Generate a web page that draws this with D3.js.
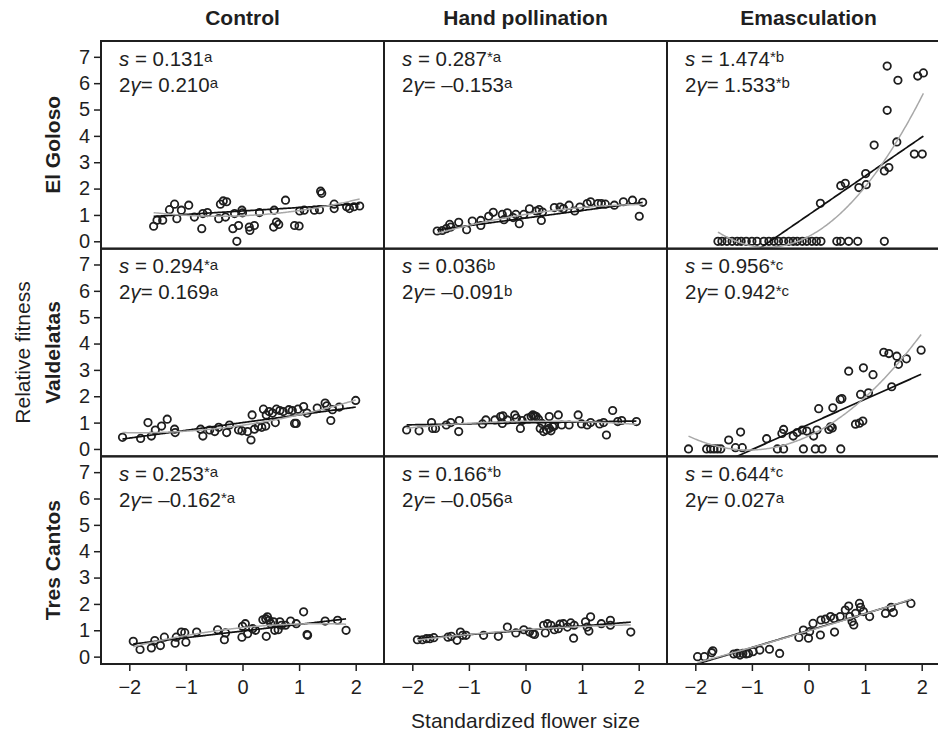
<!DOCTYPE html>
<html>
<head>
<meta charset="utf-8">
<script src="https://cdn.jsdelivr.net/npm/d3@7"></script>
<style>
body { margin: 0; background: #fff; }
text { font-family: "Liberation Sans", Arial, Helvetica, sans-serif; fill: #1f1f1f; }
</style>
</head>
<body>
<svg id="chart"></svg>
<script>
const WIDTH = 938;
const HEIGHT = 734;

const treatments = ["Control", "Hand pollination", "Emasculation"];
const populations = ["El Goloso", "Valdelatas", "Tres Cantos"];
const xTicks = [-2, -1, 0, 1, 2];
const yTicks = [0, 1, 2, 3, 4, 5, 6, 7];

// rows = populations, cols = treatments
const sValues = [[0.131, 0.287, 1.474], [0.294, 0.036, 0.956], [0.253, 0.166, 0.644]];
const sMarks = [["a", "*a", "*b"], ["*a", "b", "*c"], ["*a", "*b", "*c"]];
const gammaValues = [[0.210, -0.153, 1.533], [0.169, -0.091, 0.942], [-0.162, -0.056, 0.027]];
const gammaMarks = [["a", "a", "*b"], ["a", "b", "*c"], ["*a", "a", "a"]];

// fitted lines (linear slope = s, quadratic term = 2γ/2)
const linIntercepts = [[1.15, 0.88, 1.0], [1.0, 0.99, 0.93], [0.97, 1.0, 0.99]];
const quadIntercepts = [[0.97, 1.02, 0.18], [0.90, 1.05, 0.49], [1.10, 1.02, 0.975]];
const quadSlopes = [[0.09, 0.34, 1.12], [0.31, 0.03, 1.00], [0.22, 0.15, 0.64]];

// points [flower size, relative fitness]
const goloControl = [[-1.57,0.57],[-1.51,0.80],[-1.41,0.80],[-1.29,1.20],[-1.20,1.41],[-1.16,0.86],[-1.08,1.18],[-0.95,1.37],[-0.85,0.92],[-0.72,0.48],[-0.70,1.05],[-0.62,1.09],[-0.42,0.86],[-0.39,1.41],[-0.34,1.53],[-0.28,1.50],[-0.30,0.92],[-0.17,0.48],[-0.10,0.00],[-0.07,0.60],[-0.14,1.05],[-0.01,1.18],[0.00,1.08],[0.12,0.54],[0.13,0.41],[0.21,0.60],[0.30,1.09],[0.55,0.54],[0.56,1.18],[0.60,0.73],[0.64,0.64],[0.76,1.56],[0.92,0.60],[1.00,0.58],[1.01,1.15],[1.09,1.18],[1.27,1.18],[1.36,1.20],[1.38,1.90],[1.40,1.82],[1.62,1.41],[1.62,1.24],[1.84,1.31],[1.89,1.24],[1.97,1.31],[2.07,1.34]];
const goloHand = [[-1.56,0.39],[-1.47,0.41],[-1.40,0.48],[-1.34,0.64],[-1.32,0.54],[-1.18,0.72],[-1.04,0.44],[-0.94,0.77],[-0.79,0.79],[-0.79,0.60],[-0.65,0.95],[-0.57,1.10],[-0.41,1.02],[-0.38,0.82],[-0.32,1.08],[-0.22,0.90],[-0.17,1.02],[-0.11,0.67],[-0.03,1.02],[0.07,1.23],[0.19,1.15],[0.24,1.20],[0.28,0.79],[0.30,1.11],[0.51,1.28],[0.61,1.30],[0.67,1.24],[0.77,1.37],[0.87,1.15],[0.96,1.30],[1.09,1.43],[1.15,1.50],[1.28,1.43],[1.34,1.43],[1.41,1.41],[1.57,1.37],[1.73,1.50],[1.89,1.56],[2.01,0.95],[2.07,1.48]];
const goloEmasc = [[-1.60,0],[-1.53,0],[-1.44,0],[-1.35,0],[-1.26,0],[-1.19,0],[-1.10,0],[-1.00,0],[-0.91,0],[-0.79,0],[-0.70,0],[-0.61,0],[-0.53,0],[-0.44,0],[-0.35,0],[-0.27,0],[-0.20,0],[-0.11,0],[-0.03,0],[0.06,0],[0.14,0],[0.22,0],[0.50,0],[0.57,0],[0.71,0],[0.87,0],[1.34,0],[0.21,1.44],[0.57,2.11],[0.65,2.20],[0.89,2.04],[1.02,2.15],[1.01,2.57],[1.16,3.65],[1.34,2.67],[1.42,2.80],[1.39,4.97],[1.39,6.65],[1.56,3.77],[1.58,6.11],[1.87,3.31],[2.01,3.31],[1.93,6.27],[2.03,6.39]];
const valdControl = [[-2.12,0.44],[-1.80,0.40],[-1.61,0.49],[-1.67,1.00],[-1.54,0.72],[-1.43,0.87],[-1.33,1.13],[-1.20,0.75],[-1.19,0.62],[-0.74,0.75],[-0.70,0.49],[-0.58,0.72],[-0.49,0.66],[-0.42,0.82],[-0.28,0.62],[-0.23,0.91],[-0.07,0.72],[-0.01,0.69],[0.09,0.66],[0.15,0.34],[0.17,1.29],[0.21,0.75],[0.28,0.85],[0.34,0.82],[0.41,0.87],[0.37,1.51],[0.42,1.29],[0.47,1.42],[0.53,1.36],[0.60,1.51],[0.58,1.00],[0.66,1.46],[0.72,1.42],[0.82,1.49],[0.88,1.46],[0.92,0.97],[0.95,0.97],[0.98,1.51],[1.08,1.61],[1.14,1.36],[1.32,1.55],[1.46,1.74],[1.49,1.64],[1.56,1.08],[1.59,1.49],[1.71,1.59],[2.00,1.84]];
const valdHand = [[-2.10,0.72],[-1.88,0.69],[-1.66,1.00],[-1.64,0.78],[-1.59,0.78],[-1.40,0.91],[-1.32,1.00],[-1.18,0.66],[-1.17,1.08],[-0.76,0.95],[-0.70,1.10],[-0.54,1.10],[-0.44,1.23],[-0.41,0.97],[-0.40,1.26],[-0.32,1.10],[-0.19,1.29],[-0.16,1.17],[-0.09,0.78],[-0.06,1.08],[0.04,1.17],[0.10,1.23],[0.13,1.29],[0.16,1.26],[0.19,1.23],[0.23,1.13],[0.26,0.78],[0.29,0.97],[0.32,0.66],[0.37,0.72],[0.42,0.78],[0.45,0.69],[0.48,0.85],[0.51,0.87],[0.42,1.23],[0.58,1.29],[0.64,0.91],[0.77,0.91],[0.93,1.29],[0.99,0.95],[1.09,0.91],[1.15,1.00],[1.31,0.95],[1.38,1.00],[1.43,0.53],[1.54,1.46],[1.63,1.04],[1.70,1.08],[1.96,1.04]];
const valdEmasc = [[-2.12,0],[-1.80,0],[-1.73,0],[-1.67,0],[-1.61,0],[-1.55,0],[-1.41,0.34],[-1.29,0.05],[-1.20,0.64],[-1.17,0.05],[-0.74,0.39],[-0.55,0],[-0.44,0],[-0.47,0.59],[-0.44,0.74],[-0.27,0.49],[-0.20,0.62],[-0.11,0.72],[-0.03,0.68],[-0.09,0],[0.09,0.49],[0.15,0.72],[0.12,0],[0.24,0],[0.18,1.53],[0.36,0.74],[0.39,0.84],[0.42,0.80],[0.43,1.56],[0.56,1.88],[0.59,1.91],[0.57,0],[0.71,2.95],[0.83,0.94],[0.90,0.98],[0.96,1.06],[0.92,2.07],[0.97,3.08],[1.06,2.13],[1.14,2.82],[1.33,3.67],[1.42,3.62],[1.56,3.52],[1.59,3.21],[1.47,2.36],[1.73,3.42],[1.99,3.75]];
const tresControl = [[-1.93,0.58],[-1.81,0.27],[-1.61,0.33],[-1.55,0.61],[-1.45,0.42],[-1.38,0.74],[-1.19,0.51],[-1.17,0.74],[-1.08,0.93],[-1.02,0.91],[-1.00,0.55],[-0.81,0.93],[-0.44,1.02],[-0.32,0.64],[-0.30,0.90],[-0.01,0.74],[0.00,1.15],[0.05,1.25],[0.09,0.87],[0.18,1.06],[0.23,1.00],[0.36,1.40],[0.41,1.44],[0.44,1.51],[0.42,0.77],[0.47,1.38],[0.50,1.25],[0.55,1.32],[0.57,1.00],[0.63,1.02],[0.66,1.32],[0.69,1.19],[0.76,1.19],[0.85,1.35],[0.95,1.25],[1.08,1.70],[1.14,0.84],[1.15,0.81],[1.46,1.35],[1.68,1.38],[1.83,1.00]];
const tresHand = [[-1.91,0.64],[-1.82,0.64],[-1.75,0.68],[-1.69,0.68],[-1.62,0.72],[-1.37,0.74],[-1.31,0.77],[-1.21,0.62],[-1.15,0.93],[-1.11,0.81],[-1.05,0.81],[-0.74,0.81],[-0.48,0.77],[-0.32,1.12],[-0.17,0.90],[-0.03,1.02],[0.07,0.93],[0.13,0.87],[0.16,0.84],[0.32,1.19],[0.35,0.90],[0.39,1.25],[0.45,1.19],[0.51,1.02],[0.58,1.06],[0.61,1.23],[0.67,1.25],[0.74,1.12],[0.80,1.28],[0.86,1.19],[0.85,0.70],[1.06,1.32],[1.09,1.12],[1.12,0.97],[1.15,1.51],[1.34,1.25],[1.50,1.38],[1.50,1.19],[1.86,0.93]];
const tresEmasc = [[-1.96,0.00],[-1.84,0.00],[-1.71,0.15],[-1.69,0.22],[-1.32,0.10],[-1.26,0.12],[-1.21,0.06],[-1.16,0.12],[-1.10,0.10],[-1.06,0.12],[-0.98,0.19],[-0.86,0.25],[-0.69,0.28],[-0.51,0.12],[-0.17,0.73],[-0.09,1.01],[0.00,0.70],[0.02,0.95],[0.08,1.26],[0.21,0.82],[0.22,1.39],[0.30,1.42],[0.39,1.52],[0.45,1.45],[0.46,0.93],[0.56,1.52],[0.65,1.77],[0.71,1.92],[0.73,1.52],[0.77,1.33],[0.80,1.20],[0.83,1.64],[0.90,2.02],[0.92,1.87],[0.97,1.71],[1.08,1.52],[1.36,1.64],[1.46,1.87],[1.50,1.67],[1.81,2.02]];

const panelPoints = [
    [goloControl, goloHand, goloEmasc],
    [valdControl, valdHand, valdEmasc],
    [tresControl, tresHand, tresEmasc]
];

const LEFT = 101;
const TOP = 41;
const PANEL_W = 283;
const PANEL_H = 207.67;
const INK = "#1f1f1f";

const svg = d3.select("#chart").attr("width", WIDTH).attr("height", HEIGHT);

const x = d3.scaleLinear().domain([-2.5, 2.5]).range([0, PANEL_W]);
const y = d3.scaleLinear().domain([-0.28, 7.6]).range([PANEL_H, 0]);

const fmt = v => d3.format(".3f")(v).replace("-", "–").replace("−", "–");
const tickFmt = v => d3.format("d")(v);
const defs = svg.append("defs");

populations.forEach((pop, r) => {
    treatments.forEach((tr, c) => {
        const g = svg.append("g")
            .attr("transform", `translate(${LEFT + c * PANEL_W},${TOP + r * PANEL_H})`);

        defs.append("clipPath").attr("id", `clip-${r}-${c}`)
            .append("rect").attr("width", PANEL_W).attr("height", PANEL_H);

        const body = g.append("g").attr("clip-path", `url(#clip-${r}-${c})`);
        const pts = panelPoints[r][c];

        body.selectAll("circle")
            .data(pts)
            .join("circle")
            .attr("cx", d => x(d[0]))
            .attr("cy", d => y(d[1]))
            .attr("r", 3.7)
            .attr("fill", "none")
            .attr("stroke", INK)
            .attr("stroke-width", 1.8);

        // fitted lines across the range of the points
        const ext = d3.extent(pts, d => d[0]);
        const xs = d3.range(ext[0], ext[1], 0.02).concat([ext[1]]);
        const lin = v => linIntercepts[r][c] + sValues[r][c] * v;
        const quad = v => quadIntercepts[r][c] + quadSlopes[r][c] * v + gammaValues[r][c] / 2 * v * v;

        body.append("path")
            .attr("d", d3.line().x(d => x(d)).y(d => y(lin(d)))(xs))
            .attr("fill", "none").attr("stroke", "#111").attr("stroke-width", 1.7);
        body.append("path")
            .attr("d", d3.line().x(d => x(d)).y(d => y(quad(d)))(xs))
            .attr("fill", "none").attr("stroke", "#a8a8a8").attr("stroke-width", 1.5);

        g.append("rect")
            .attr("width", PANEL_W).attr("height", PANEL_H)
            .attr("fill", "none").attr("stroke", INK).attr("stroke-width", 2);

        // annotation
        const t1 = g.append("text").attr("x", 18).attr("y", 24.5).attr("font-size", 20.5);
        t1.append("tspan").attr("font-style", "italic").text("s");
        t1.append("tspan").text(" = " + fmt(sValues[r][c]));
        t1.append("tspan").attr("font-size", 15).attr("dy", -3.5).text(sMarks[r][c]);

        const t2 = g.append("text").attr("x", 18).attr("y", 50.5).attr("font-size", 20.5);
        t2.append("tspan").text("2");
        t2.append("tspan").attr("font-style", "italic").text("γ");
        t2.append("tspan").text("= " + fmt(gammaValues[r][c]));
        t2.append("tspan").attr("font-size", 15).attr("dy", -3.5).text(gammaMarks[r][c]);

        if (c === 0) {
            const ax = g.append("g")
                .call(d3.axisLeft(y).tickValues(yTicks).tickFormat(tickFmt).tickSize(7).tickPadding(4));
            ax.select(".domain").remove();
            ax.selectAll("line").attr("stroke", INK).attr("stroke-width", 1.5);
            ax.selectAll("text").attr("font-size", 20).attr("font-family", null).attr("fill", INK);
        }
        if (r === populations.length - 1) {
            const ax = g.append("g")
                .attr("transform", `translate(0,${PANEL_H})`)
                .call(d3.axisBottom(x).tickValues(xTicks).tickFormat(tickFmt).tickSize(7).tickPadding(9));
            ax.select(".domain").remove();
            ax.selectAll("line").attr("stroke", INK).attr("stroke-width", 1.5);
            ax.selectAll("text").attr("font-size", 20).attr("font-family", null).attr("fill", INK);
        }
        if (r === 0) {
            svg.append("text")
                .attr("x", LEFT + c * PANEL_W + PANEL_W / 2).attr("y", 25)
                .attr("text-anchor", "middle").attr("font-size", 21).attr("font-weight", "bold")
                .text(tr);
        }
    });

    svg.append("text")
        .attr("transform", `translate(60,${TOP + r * PANEL_H + PANEL_H / 2}) rotate(-90)`)
        .attr("text-anchor", "middle").attr("font-size", 21).attr("font-weight", "bold")
        .text(pop);
});

svg.append("text")
    .attr("transform", `translate(29.5,${TOP + 1.5 * PANEL_H}) rotate(-90)`)
    .attr("text-anchor", "middle").attr("font-size", 21)
    .text("Relative fitness");

svg.append("text")
    .attr("x", LEFT + 1.5 * PANEL_W).attr("y", 728)
    .attr("text-anchor", "middle").attr("font-size", 21)
    .text("Standardized flower size");
</script>
</body>
</html>
